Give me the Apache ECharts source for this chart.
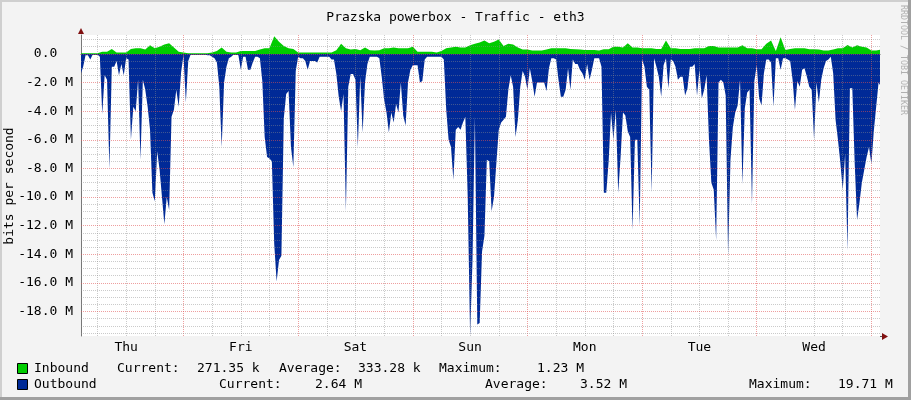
<!DOCTYPE html>
<html>
<head>
<meta charset="utf-8">
<script src="https://cdn.jsdelivr.net/npm/echarts@6/dist/echarts.min.js"></script>
<style>
html, body { margin: 0; padding: 0; background: #f3f3f3; }
#chart { width: 911px; height: 400px; }
</style>
</head>
<body>
<div id="chart"></div>
<script>
// outbound, M bit/s, one value per 30 min, first value at Thu 02:30
var outThu = [-1.4, -0.9, -0.1, -0.1, -0.4, -0.05, -0.05, -0.05, -0.2, -4.2,
    -1.5, -1.8, -8.0, -0.9, -0.9, -0.5, -1.5, -0.7, -1.5, -0.3,
    -0.4, -6.0, -3.7, -4.0, -1.8, -7.4, -1.8, -2.5, -3.7, -5.3,
    -9.7, -10.3, -6.8, -8.1, -10.0, -11.9, -10.0, -10.9, -4.4, -3.9,
    -2.5, -3.7, -1.3];
var outFri = [-0.1, -3.4, -0.5, -0.05, -0.05, -0.05, -0.05, -0.05, -0.05, -0.05,
    -0.1, -0.1, -0.2, -0.3, -0.6, -2.3, -6.5, -2.0, -0.9, -0.3,
    -0.2, -0.05, -0.05, -0.1, -1.1, -0.2, -0.2, -1.1, -1.1, -0.6,
    -0.2, -0.2, -0.3, -1.9, -5.8, -7.2, -7.3, -7.5, -13.3, -15.9,
    -14.4, -14.1, -4.5, -2.8, -2.6, -6.5, -7.9, -1.2];
var outSat = [-0.2, -0.3, -0.3, -0.5, -1.1, -0.5, -0.5, -0.5, -0.6, -0.2,
    -0.2, -0.2, -0.2, -0.2, -0.4, -0.4, -1.4, -3.0, -4.0, -2.8,
    -11.0, -2.3, -1.4, -1.4, -1.8, -6.5, -1.6, -5.5, -2.0, -0.7,
    -0.2, -0.2, -0.2, -0.2, -0.3, -1.6, -3.2, -4.1, -5.5, -4.1,
    -4.8, -3.5, -4.1, -2.0, -4.3, -5.0, -2.0, -1.1];
var outSun = [-0.8, -0.8, -0.8, -2.0, -1.9, -0.4, -0.2, -0.2, -0.2, -0.2,
    -0.2, -0.2, -0.2, -0.4, -3.9, -6.0, -6.5, -8.8, -5.3, -5.1,
    -5.3, -4.8, -4.4, -10.0, -19.7, -14.4, -4.4, -18.9, -18.8, -13.8,
    -12.7, -7.4, -7.5, -11.0, -10.0, -7.6, -5.3, -4.8, -4.6, -4.4,
    -2.5, -1.5, -2.3, -5.8, -4.6, -2.3, -1.2, -1.6];
var outMon = [-2.5, -1.0, -1.9, -3.0, -2.0, -2.0, -2.0, -2.0, -2.6, -1.0,
    -0.3, -0.3, -0.4, -1.8, -3.0, -3.0, -2.5, -1.0, -2.5, -0.4,
    -0.7, -0.7, -1.1, -1.35, -1.8, -0.7, -1.8, -1.1, -0.3, -0.3,
    -0.3, -0.9, -9.7, -9.7, -7.5, -4.1, -6.0, -3.9, -9.7, -7.2,
    -4.1, -4.3, -5.4, -5.8, -12.3, -6.0, -6.0, -12.0];
var outTue = [-0.4, -0.9, -2.3, -2.5, -9.7, -0.3, -0.9, -1.6, -3.0, -0.8,
    -0.3, -2.4, -0.4, -0.5, -0.9, -1.8, -1.6, -1.6, -2.9, -2.4,
    -0.9, -0.9, -0.7, -2.9, -1.1, -3.1, -2.5, -1.5, -6.0, -9.0,
    -9.5, -13.0, -2.0, -1.8, -2.0, -2.9, -14.1, -7.4, -5.1, -4.1,
    -3.6, -1.8, -9.1, -3.8, -2.7, -2.5, -10.5, -1.9];
var outWed = [-0.8, -3.1, -3.6, -1.35, -0.4, -0.4, -0.6, -3.7, -0.3, -0.3,
    -1.1, -0.3, -0.3, -0.4, -0.5, -1.8, -3.9, -1.9, -2.3, -1.1,
    -1.0, -1.6, -2.3, -2.5, -6.0, -2.0, -3.4, -1.8, -1.0, -0.5,
    -0.4, -0.2, -1.35, -4.6, -6.0, -7.6, -9.5, -7.0, -13.7, -2.4,
    -2.4, -7.6, -11.6, -10.4, -9.0, -8.1, -7.2, -6.5];
var outThuNext = [-7.7, -5.4, -3.7, -2.0, -2.3];

// inbound, M bit/s, one value per hour, first value at Thu 02:00
var inThu = [0.05, 0.05, 0.05, 0.05, 0.05, 0.15, 0.15, 0.35, 0.1, 0.1,
    0.1, 0.35, 0.4, 0.4, 0.3, 0.6, 0.4, 0.5, 0.65, 0.75, 0.45, 0.15];
var inFri = [0.1, 0.05, 0.05, 0.05, 0.05, 0.05, 0.1, 0.2, 0.45, 0.15, 0.1, 0.1,
    0.2, 0.2, 0.2, 0.2, 0.3, 0.4, 0.4, 1.23, 0.85, 0.55, 0.4, 0.35];
var inSat = [0.1, 0.1, 0.1, 0.1, 0.1, 0.1, 0.1, 0.1, 0.25, 0.7, 0.4, 0.3,
    0.35, 0.25, 0.45, 0.25, 0.23, 0.25, 0.4, 0.4, 0.45, 0.4, 0.4, 0.4];
var inSun = [0.5, 0.15, 0.15, 0.15, 0.15, 0.1, 0.2, 0.4, 0.45, 0.5, 0.45, 0.45,
    0.6, 0.7, 0.8, 0.93, 0.75, 0.85, 1.0, 0.55, 0.7, 0.65, 0.45, 0.3];
var inMon = [0.3, 0.23, 0.23, 0.23, 0.3, 0.4, 0.4, 0.4, 0.4, 0.35, 0.33, 0.3,
    0.28, 0.28, 0.28, 0.23, 0.33, 0.33, 0.5, 0.5, 0.45, 0.75, 0.45, 0.45];
var inTue = [0.4, 0.4, 0.4, 0.35, 0.35, 0.93, 0.4, 0.4, 0.35, 0.35, 0.35, 0.4,
    0.4, 0.4, 0.55, 0.55, 0.45, 0.45, 0.45, 0.45, 0.45, 0.6, 0.4, 0.4];
var inWed = [0.33, 0.33, 0.7, 0.93, 0.2, 1.16, 0.28, 0.35, 0.4, 0.4, 0.4, 0.33,
    0.33, 0.3, 0.23, 0.23, 0.3, 0.4, 0.4, 0.63, 0.45, 0.6, 0.5, 0.45];
var inThuNext = [0.23, 0.23, 0.3];

var dayNames = ['Thu', 'Fri', 'Sat', 'Sun', 'Mon', 'Tue', 'Wed'];
var dayLabelHours = [12, 36, 60, 84, 108, 132, 156];
var yLabelValues = [0, -2, -4, -6, -8, -10, -12, -14, -16, -18];

var seriesNames = ['Inbound', 'Outbound'];
var seriesColors = ['#00cc00', '#002a97'];
var statLabels = ['Current:', 'Average:', 'Maximum:'];
var inboundStats = ['271.35 k', '333.28 k', '1.23 M'];
var outboundStats = ['2.64 M', '3.52 M', '19.71 M'];

var mono = 'DejaVu Sans Mono';
var font = '13px "DejaVu Sans Mono"';

var toPoints = function (values, start, step) {
    return values.map(function (v, i) { return [start + i * step, v]; });
};

var outbound = toPoints([].concat(outThu, outFri, outSat, outSun, outMon, outTue, outWed, outThuNext), 2.5, 0.5);
var inbound = toPoints([].concat(inThu, inFri, inSat, inSun, inMon, inTue, inWed, inThuNext), 2, 1);

// dotted grid, drawn above the areas like rrdtool does
var greyDots = { color: 'rgba(140,140,140,0.45)', width: 1, type: [1, 1] };
var redDots = { color: 'rgba(224,80,80,0.55)', width: 1, type: [1, 1] };
var gridLines = [];
for (var h = 6; h <= 168; h += 6) {
    gridLines.push({ xAxis: h, lineStyle: h % 24 === 0 ? redDots : greyDots });
}
for (var m = -19.5; m <= 1.0; m += 0.5) {
    gridLines.push({ yAxis: m, lineStyle: m % 2 === 0 ? redDots : greyDots });
}

var text = function (str, x, y) {
    return { type: 'text', x: x, y: y, silent: true,
        style: { text: str, font: font, fill: '#000', verticalAlign: 'middle' } };
};

var legendBox = function (color, y) {
    return { type: 'rect', silent: true, shape: { x: 17.5, y: y, width: 10, height: 10 },
        style: { fill: color, stroke: '#000', lineWidth: 1 } };
};

var graphics = [
    { type: 'rect', shape: { x: 0, y: 0, width: 911, height: 2 }, style: { fill: '#cfcfcf' }, silent: true },
    { type: 'rect', shape: { x: 0, y: 0, width: 2, height: 400 }, style: { fill: '#cfcfcf' }, silent: true },
    { type: 'rect', shape: { x: 0, y: 397, width: 911, height: 3 }, style: { fill: '#a0a0a0' }, silent: true },
    { type: 'rect', shape: { x: 908, y: 0, width: 3, height: 400 }, style: { fill: '#a0a0a0' }, silent: true },
    { type: 'line', shape: { x1: 880, y1: 336.5, x2: 883, y2: 336.5 }, style: { stroke: '#555', lineWidth: 1 }, silent: true },
    { type: 'polygon', shape: { points: [[78, 34], [84, 34], [81, 28]] }, style: { fill: '#801010' }, silent: true },
    { type: 'polygon', shape: { points: [[882, 333], [882, 340], [888, 336.5]] }, style: { fill: '#801010' }, silent: true },
    { type: 'text', x: 903, y: 5, rotation: -Math.PI / 2, silent: true,
        style: { text: 'RRDTOOL / TOBI OETIKER', font: '8.3px "DejaVu Sans Mono"', fill: '#b0b0b0', verticalAlign: 'middle' } },
    { type: 'text', x: 10, y: 186, rotation: Math.PI / 2, silent: true,
        style: { text: 'bits per second', font: font, fill: '#000', align: 'center', verticalAlign: 'middle' } },
    legendBox(seriesColors[0], 363.5),
    text(seriesNames[0], 34, 368.5),
    legendBox(seriesColors[1], 379.5),
    text(seriesNames[1], 34, 384.5),
    text(statLabels[0], 117, 368.5),
    text(inboundStats[0], 197, 368.5),
    text(statLabels[1], 279, 368.5),
    text(inboundStats[1], 358, 368.5),
    text(statLabels[2], 439, 368.5),
    text(inboundStats[2], 537, 368.5),
    text(statLabels[0], 219, 384.5),
    text(outboundStats[0], 315, 384.5),
    text(statLabels[1], 485, 384.5),
    text(outboundStats[1], 580, 384.5),
    text(statLabels[2], 749, 384.5),
    text(outboundStats[2], 838, 384.5)
];

var option = {
    animation: false,
    backgroundColor: '#f3f3f3',
    title: {
        text: 'Prazska powerbox - Traffic - eth3',
        left: 'center',
        top: 6,
        textStyle: { fontFamily: mono, fontSize: 13, fontWeight: 'normal', color: '#000' }
    },
    grid: {
        left: 81,
        right: 31,
        top: 35,
        bottom: 64,
        outerBoundsMode: 'none',
        show: true,
        backgroundColor: '#fff',
        borderWidth: 0
    },
    xAxis: {
        type: 'value',
        min: 2.55,
        max: 169.8,
        splitLine: { show: false },
        axisTick: { show: false },
        axisLine: { show: true, lineStyle: { color: '#555', width: 1 } },
        axisLabel: {
            customValues: dayLabelHours,
            margin: 5,
            fontFamily: mono,
            fontSize: 13,
            color: '#000',
            formatter: function (v) { return dayNames[Math.floor(v / 24)]; }
        }
    },
    yAxis: {
        type: 'value',
        min: -19.71,
        max: 1.32,
        splitLine: { show: false },
        axisTick: { show: false },
        axisLine: { show: true, lineStyle: { color: '#777', width: 1 } },
        axisLabel: {
            customValues: yLabelValues,
            margin: 8,
            fontFamily: mono,
            fontSize: 13,
            color: '#000',
            formatter: function (v) { return v === 0 ? '0.0  ' : v.toFixed(1) + ' M'; }
        }
    },
    series: [{
        name: seriesNames[1],
        type: 'line',
        data: outbound,
        symbol: 'none',
        lineStyle: { width: 0 },
        itemStyle: { color: seriesColors[1] },
        areaStyle: { color: seriesColors[1], opacity: 1 },
        z: 2
    }, {
        name: seriesNames[0],
        type: 'line',
        data: inbound,
        symbol: 'none',
        lineStyle: { width: 0 },
        itemStyle: { color: seriesColors[0] },
        areaStyle: { color: seriesColors[0], opacity: 1 },
        z: 2
    }, {
        name: 'grid',
        type: 'line',
        data: [],
        z: 4,
        markLine: {
            silent: true,
            symbol: 'none',
            animation: false,
            label: { show: false },
            data: gridLines
        }
    }],
    graphic: graphics
};

var chart = echarts.init(document.getElementById('chart'));
chart.setOption(option);
</script>
</body>
</html>
